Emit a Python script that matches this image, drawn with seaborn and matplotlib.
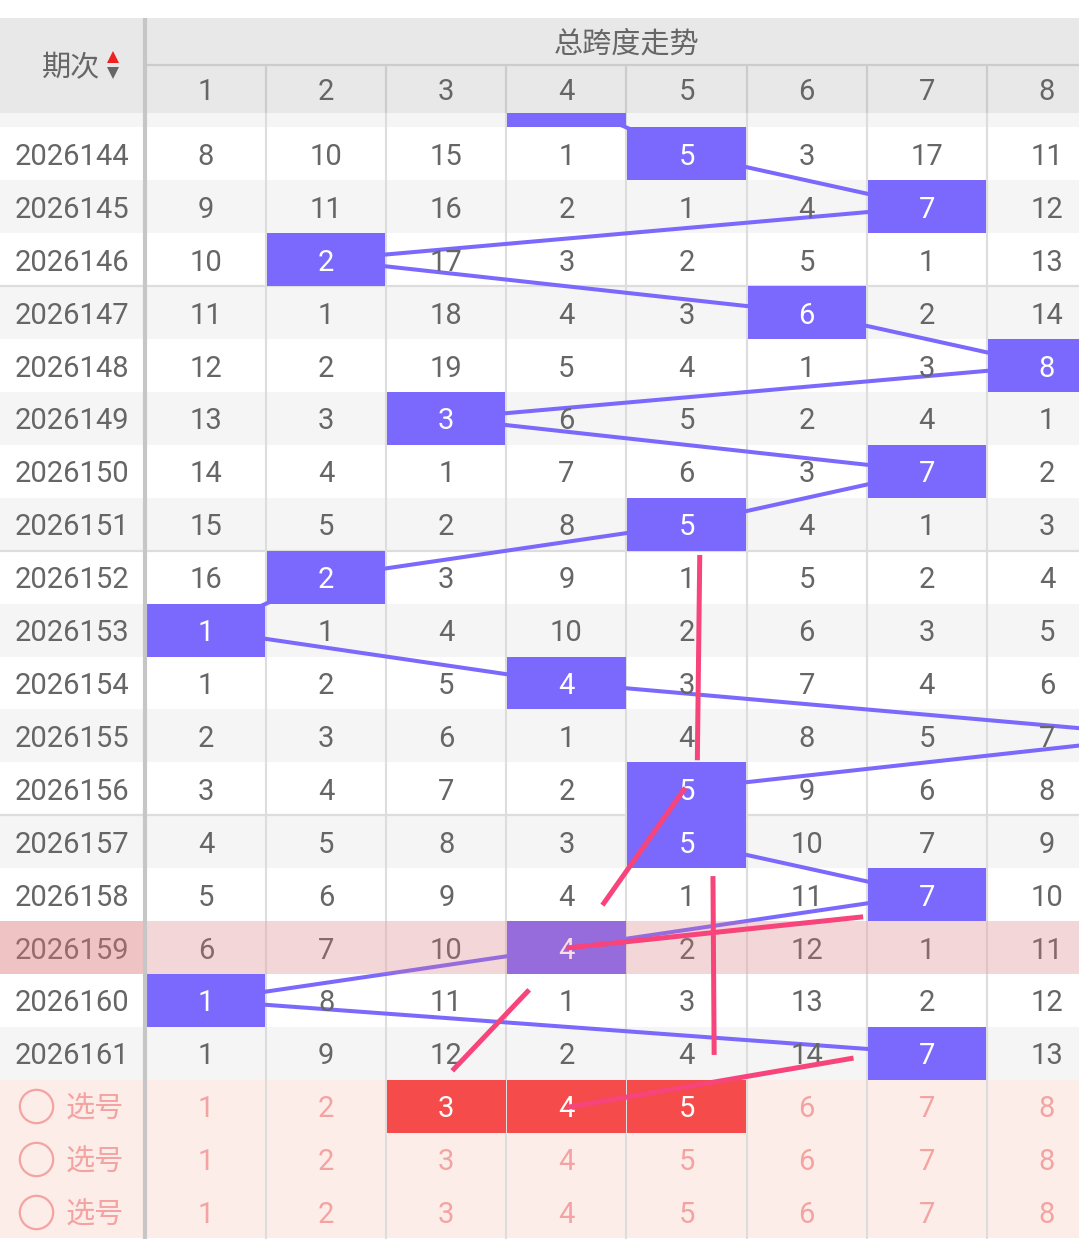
import numpy as np
import pandas as pd
import seaborn as sns
import matplotlib.pyplot as plt

# ---- data ----
periods = ['2026144', '2026145', '2026146', '2026147', '2026148', '2026149',
           '2026150', '2026151', '2026152', '2026153', '2026154', '2026155',
           '2026156', '2026157', '2026158', '2026159', '2026160', '2026161']
# column of the drawn span for each period (9 = off screen to the right)
hit_col = [5, 7, 2, 6, 8, 3, 7, 5, 2, 1, 4, 9, 5, 5, 7, 4, 1, 7]
prev_hit = 4  # 2026143, only a sliver of it shows under the header
span_cols = [1, 2, 3, 4, 5, 6, 7, 8]
omission = [
    [8, 10, 15, 1, 5, 3, 17, 11],
    [9, 11, 16, 2, 1, 4, 7, 12],
    [10, 2, 17, 3, 2, 5, 1, 13],
    [11, 1, 18, 4, 3, 6, 2, 14],
    [12, 2, 19, 5, 4, 1, 3, 8],
    [13, 3, 3, 6, 5, 2, 4, 1],
    [14, 4, 1, 7, 6, 3, 7, 2],
    [15, 5, 2, 8, 5, 4, 1, 3],
    [16, 2, 3, 9, 1, 5, 2, 4],
    [1, 1, 4, 10, 2, 6, 3, 5],
    [1, 2, 5, 4, 3, 7, 4, 6],
    [2, 3, 6, 1, 4, 8, 5, 7],
    [3, 4, 7, 2, 5, 9, 6, 8],
    [4, 5, 8, 3, 5, 10, 7, 9],
    [5, 6, 9, 4, 1, 11, 7, 10],
    [6, 7, 10, 4, 2, 12, 1, 11],
    [1, 8, 11, 1, 3, 13, 2, 12],
    [1, 9, 12, 2, 4, 14, 7, 13],
]
picked = [3, 4, 5]          # red cells in the first 选号 row
n_pick_rows = 3
hot_period = '2026159'
# hand drawn pink strokes, (column, row) end points
strokes = [
    [(5.11, 7.58), (5.09, 11.46)],
    [(4.99, 11.98), (4.30, 14.20)],
    [(4.00, 15.01), (6.47, 14.42)],
    [(5.22, 13.65), (5.23, 17.03)],
    [(3.69, 15.80), (3.05, 17.33)],
    [(4.01, 18.02), (6.39, 17.09)],
]

BLUE = '#7a69fc'
PINK = '#f7447a'
TXT = '#666666'
SOFT = '#f4a3a3'

sns.set_theme(style='white')
plt.rcParams['font.family'] = ['Roboto', 'Noto Sans CJK SC', 'DejaVu Sans']

fig = plt.figure(figsize=(10.79, 12.39), dpi=100)
ax = fig.add_axes([0, 0, 1, 1])
x0, x1 = -0.715, 8.267
y_top, y_bot = -2.91, 20.51
ax.set_xlim(x0, x1)
ax.set_ylim(y_bot, y_top)
ax.axis('off')

n = len(periods)
rows = np.arange(n)
fs = 21
per_x = -0.115

# row backgrounds
bg = ['white' if i % 2 == 0 else '#f5f5f5' for i in rows]
ax.barh(rows, x1 - x0, left=x0, height=1, color=bg, lw=0, zorder=0)
ax.barh([-1], x1 - x0, left=x0, height=1, color='#f5f5f5', lw=0, zorder=0)
pick_rows = np.arange(n, n + n_pick_rows)
ax.barh(pick_rows, x1 - x0, left=x0, height=1, color='#fdede8', lw=0,
        zorder=0)

# grid
for c in span_cols[:-1]:
    ax.vlines(c + 0.5, -0.78, y_bot, color='#dddddd', lw=1.5, zorder=1)
for g in [2.5, 7.5, 12.5]:
    ax.hlines(g, x0, x1, color='#dddddd', lw=1.6, zorder=1)

# trend line through the hit cells
trend = pd.DataFrame({'col': [prev_hit] + hit_col, 'row': np.arange(-1, n)})
sns.lineplot(data=trend, x='col', y='row', sort=False, estimator=None,
             color=BLUE, lw=2.9, ax=ax, zorder=2)
ax.set_xlim(x0, x1)
ax.set_ylim(y_bot, y_top)

# hit cells
vis = [(c, r) for c, r in zip([prev_hit] + hit_col, range(-1, n)) if c <= 8]
ax.bar([c for c, r in vis], 1, bottom=[r - 0.5 for c, r in vis], width=0.985,
       color=BLUE, lw=0, zorder=3)

# numbers
for i in rows:
    ax.text(per_x, i, periods[i], ha='center', va='center_baseline',
            fontsize=fs, color=TXT, zorder=4)
    for c in span_cols:
        hit = c == hit_col[i]
        ax.text(c, i, str(omission[i][c - 1]), ha='center',
                va='center_baseline', fontsize=fs,
                color='white' if hit else TXT, zorder=4)

# pick rows
ax.bar(picked, 1, bottom=n - 0.5, width=0.99, color='#f54b4b', lw=0,
       zorder=3)
for r in pick_rows:
    ax.plot([-0.415], [r], marker='o', ms=24, mfc='none', mec=SOFT, mew=1.6,
            zorder=4)
    ax.text(0.076, r, '选号', ha='center', va='center_baseline', fontsize=fs,
            color=SOFT, zorder=4)
    for c in span_cols:
        red = r == n and c in picked
        ax.text(c, r, str(c), ha='center', va='center_baseline', fontsize=fs,
                color='white' if red else SOFT, zorder=4)

# highlighted period row
h = periods.index(hot_period)
ax.barh([h], x1 - x0, left=x0, height=1, color='#f0787d', alpha=0.24, lw=0,
        zorder=4.5)
ax.barh([h], 0.49 - x0, left=x0, height=1, color='#e07070', alpha=0.2, lw=0,
        zorder=4.6)

# header
ax.barh([-2.125], x1 - x0, left=x0, height=0.895, color='#e8e8e8', lw=0,
        zorder=5)
ax.barh([-1.227], x1 - x0, left=x0, height=0.905, color='#e8e8e8', lw=0,
        zorder=5)
ax.hlines(-1.68, 0.5, x1, color='#cccccc', lw=1.6, zorder=5.2)
for c in span_cols[:-1]:
    ax.vlines(c + 0.5, -1.68, -0.775, color='#cccccc', lw=1.6, zorder=5.2)
ax.text(4.5, -2.12, '总跨度走势', ha='center', va='center_baseline',
        fontsize=fs, color=TXT, zorder=6)
for c in span_cols:
    ax.text(c, -1.227, str(c), ha='center', va='center_baseline', fontsize=fs,
            color=TXT, zorder=6)
ax.text(-0.12, -1.68, '期次', ha='center', va='center_baseline', fontsize=fs,
        color=TXT, zorder=6)
ax.plot([0.226], [-1.83], marker='^', ms=9, color='#f02020', mew=0, zorder=6)
ax.plot([0.226], [-1.53], marker='v', ms=9, color='#666666', mew=0, zorder=6)

# thick divider after the period column
ax.vlines(0.49, -2.57, y_bot, color='#c6c6c6', lw=3, zorder=5.5)

# pink strokes on top
for (a, b) in strokes:
    ax.plot([a[0], b[0]], [a[1], b[1]], color=PINK, lw=3.6,
            solid_capstyle='butt', zorder=7)

fig.savefig('out.png', dpi=100)
